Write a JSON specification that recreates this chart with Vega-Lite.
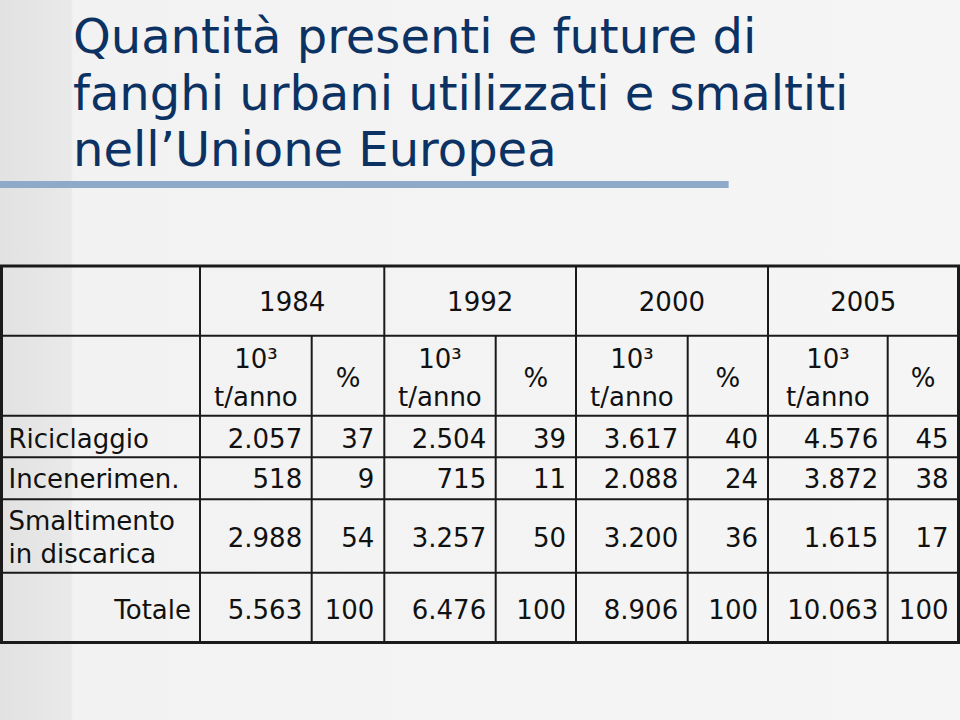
{
  "$schema": "https://vega.github.io/schema/vega-lite/v6.json",
  "width": 960,
  "height": 720,
  "autosize": {"type": "none"},
  "padding": 0,
  "background": "#f4f4f4",
  "title": {
    "text": ["Quantità presenti e future di", "fanghi urbani utilizzati e smaltiti", "nell’Unione Europea"],
    "orient": "top",
    "anchor": "start",
    "frame": "group",
    "align": "left",
    "baseline": "top",
    "offset": -18,
    "dx": 73,
    "dy": 158,
    "font": "DejaVu Sans",
    "fontSize": 48,
    "fontWeight": "normal",
    "lineHeight": 56.5,
    "color": "#0c3264"
  },
  "config": {
    "locale": {"number": {"decimal": ",", "thousands": ".", "grouping": [3], "currency": ["€", ""]}},
    "view": {
      "stroke": null,
      "fill": {
        "gradient": "linear", "x1": 0, "x2": 1, "y1": 0, "y2": 0,
        "stops": [
          {"offset": 0, "color": "#e2e2e2"},
          {"offset": 0.074, "color": "#e9e9e9"},
          {"offset": 0.076, "color": "#f2f2f2"},
          {"offset": 1, "color": "#f5f5f5"}
        ]
      }
    },
    "text": {"font": "DejaVu Sans", "fontSize": 26, "color": "#111111"}
  },
  "datasets": {
    "tabella": [
      {"categoria": "Riciclaggio", "riga": 2, "anno": 1984, "migliaia_t": 2057, "percentuale": 37},
      {"categoria": "Riciclaggio", "riga": 2, "anno": 1992, "migliaia_t": 2504, "percentuale": 39},
      {"categoria": "Riciclaggio", "riga": 2, "anno": 2000, "migliaia_t": 3617, "percentuale": 40},
      {"categoria": "Riciclaggio", "riga": 2, "anno": 2005, "migliaia_t": 4576, "percentuale": 45},
      {"categoria": "Incenerimen.", "riga": 3, "anno": 1984, "migliaia_t": 518, "percentuale": 9},
      {"categoria": "Incenerimen.", "riga": 3, "anno": 1992, "migliaia_t": 715, "percentuale": 11},
      {"categoria": "Incenerimen.", "riga": 3, "anno": 2000, "migliaia_t": 2088, "percentuale": 24},
      {"categoria": "Incenerimen.", "riga": 3, "anno": 2005, "migliaia_t": 3872, "percentuale": 38},
      {"categoria": "Smaltimento\nin discarica", "riga": 4, "anno": 1984, "migliaia_t": 2988, "percentuale": 54},
      {"categoria": "Smaltimento\nin discarica", "riga": 4, "anno": 1992, "migliaia_t": 3257, "percentuale": 50},
      {"categoria": "Smaltimento\nin discarica", "riga": 4, "anno": 2000, "migliaia_t": 3200, "percentuale": 36},
      {"categoria": "Smaltimento\nin discarica", "riga": 4, "anno": 2005, "migliaia_t": 1615, "percentuale": 17},
      {"categoria": "Totale", "riga": 5, "anno": 1984, "migliaia_t": 5563, "percentuale": 100},
      {"categoria": "Totale", "riga": 5, "anno": 1992, "migliaia_t": 6476, "percentuale": 100},
      {"categoria": "Totale", "riga": 5, "anno": 2000, "migliaia_t": 8906, "percentuale": 100},
      {"categoria": "Totale", "riga": 5, "anno": 2005, "migliaia_t": 10063, "percentuale": 100}
    ],
    "anni": [{"anno": 1984}, {"anno": 1992}, {"anno": 2000}, {"anno": 2005}],
    "orizzontali": [{"confine": 1}, {"confine": 2}, {"confine": 3}, {"confine": 4}, {"confine": 5}],
    "verticali": [
      {"confine": 1, "da": 0}, {"confine": 2, "da": 1},
      {"confine": 3, "da": 0}, {"confine": 4, "da": 1},
      {"confine": 5, "da": 0}, {"confine": 6, "da": 1},
      {"confine": 7, "da": 0}, {"confine": 8, "da": 1}
    ]
  },
  "resolve": {"scale": {"x": "independent", "y": "independent"}},
  "layer": [
    {
      "data": {"values": [{"elemento": "sottolineatura titolo"}]},
      "mark": {"type": "rule", "color": "#8fa9c8", "strokeWidth": 7, "strokeCap": "butt"},
      "encoding": {
        "x": {"datum": 0, "type": "quantitative", "axis": null, "scale": {"domain": [0, 100], "range": [0, 960], "nice": false, "zero": false}},
        "x2": {"datum": 75.9},
        "y": {"datum": 25.625, "type": "quantitative", "axis": null, "scale": {"domain": [0, 100], "range": [0, 720], "nice": false, "zero": false}}
      }
    },
    {
      "data": {"name": "orizzontali"},
      "mark": {"type": "rule", "color": "#1a1a1a", "strokeWidth": 2},
      "encoding": {
        "y": {"field": "confine", "type": "quantitative", "axis": null, "scale": {"domain": [0, 1, 2, 3, 4, 5, 6], "range": [266, 335.7, 415.7, 457.3, 499.3, 572.7, 642.5], "nice": false, "zero": false}}
      }
    },
    {
      "data": {"name": "verticali"},
      "mark": {"type": "rule", "color": "#1a1a1a", "strokeWidth": 2},
      "encoding": {
        "x": {"field": "confine", "type": "quantitative", "axis": null, "scale": {"domain": [0, 1, 2, 3, 4, 5, 6, 7, 8, 9], "range": [1.5, 200, 311.7, 384.3, 495.7, 576, 687.7, 768, 887.7, 958.5], "nice": false, "zero": false}},
        "y": {"field": "da", "type": "quantitative", "axis": null, "scale": {"domain": [0, 1, 2, 3, 4, 5, 6], "range": [266, 335.7, 415.7, 457.3, 499.3, 572.7, 642.5], "nice": false, "zero": false}},
        "y2": {"datum": 6}
      }
    },
    {
      "data": {"values": [{"elemento": "cornice tabella"}]},
      "mark": {"type": "rect", "fillOpacity": 0, "stroke": "#1a1a1a", "strokeWidth": 3},
      "encoding": {
        "x": {"datum": 0, "type": "quantitative", "axis": null, "scale": {"domain": [0, 1, 2, 3, 4, 5, 6, 7, 8, 9], "range": [1.5, 200, 311.7, 384.3, 495.7, 576, 687.7, 768, 887.7, 958.5], "nice": false, "zero": false}},
        "x2": {"datum": 9},
        "y": {"datum": 0, "type": "quantitative", "axis": null, "scale": {"domain": [0, 1, 2, 3, 4, 5, 6], "range": [266, 335.7, 415.7, 457.3, 499.3, 572.7, 642.5], "nice": false, "zero": false}},
        "y2": {"datum": 6}
      }
    },
    {
      "data": {"name": "anni"},
      "mark": {"type": "text", "align": "center", "baseline": "alphabetic"},
      "encoding": {
        "x": {"field": "anno", "type": "quantitative", "axis": null, "scale": {"domain": [1984, 1992, 2000, 2005], "range": [292.2, 480.2, 671.9, 863.3], "nice": false, "zero": false}},
        "y": {"datum": 0, "type": "quantitative", "axis": null, "scale": {"domain": [0, 1, 2, 3, 4, 5], "range": [311, 368.3, 448, 488.3, 546.7, 618.5], "nice": false, "zero": false}},
        "text": {"field": "anno", "type": "quantitative", "format": "d"}
      }
    },
    {
      "data": {"name": "anni"},
      "mark": {"type": "text", "align": "center", "baseline": "alphabetic", "lineHeight": 37.7},
      "encoding": {
        "x": {"field": "anno", "type": "quantitative", "axis": null, "scale": {"domain": [1984, 1992, 2000, 2005], "range": [255.9, 439.9, 631.9, 827.9], "nice": false, "zero": false}},
        "y": {"datum": 1, "type": "quantitative", "axis": null, "scale": {"domain": [0, 1, 2, 3, 4, 5], "range": [311, 368.3, 448, 488.3, 546.7, 618.5], "nice": false, "zero": false}},
        "text": {"value": ["10³", "t/anno"]}
      }
    },
    {
      "data": {"name": "anni"},
      "mark": {"type": "text", "align": "center", "baseline": "alphabetic", "dy": 18.7},
      "encoding": {
        "x": {"field": "anno", "type": "quantitative", "axis": null, "scale": {"domain": [1984, 1992, 2000, 2005], "range": [348, 535.9, 727.9, 923.1], "nice": false, "zero": false}},
        "y": {"datum": 1, "type": "quantitative", "axis": null, "scale": {"domain": [0, 1, 2, 3, 4, 5], "range": [311, 368.3, 448, 488.3, 546.7, 618.5], "nice": false, "zero": false}},
        "text": {"value": "%"}
      }
    },
    {
      "data": {"name": "tabella"},
      "mark": {"type": "text", "align": "right", "baseline": "alphabetic", "dx": -9.5},
      "encoding": {
        "x": {"field": "anno", "type": "quantitative", "axis": null, "scale": {"domain": [1984, 1992, 2000, 2005], "range": [311.7, 495.7, 687.7, 887.7], "nice": false, "zero": false}},
        "y": {"field": "riga", "type": "quantitative", "axis": null, "scale": {"domain": [0, 1, 2, 3, 4, 5], "range": [311, 368.3, 448, 488.3, 546.7, 618.5], "nice": false, "zero": false}},
        "text": {"field": "migliaia_t", "type": "quantitative", "format": ",d"}
      }
    },
    {
      "data": {"name": "tabella"},
      "mark": {"type": "text", "align": "right", "baseline": "alphabetic", "dx": -10},
      "encoding": {
        "x": {"field": "anno", "type": "quantitative", "axis": null, "scale": {"domain": [1984, 1992, 2000, 2005], "range": [384.3, 576, 768, 958.5], "nice": false, "zero": false}},
        "y": {"field": "riga", "type": "quantitative", "axis": null, "scale": {"domain": [0, 1, 2, 3, 4, 5], "range": [311, 368.3, 448, 488.3, 546.7, 618.5], "nice": false, "zero": false}},
        "text": {"field": "percentuale", "type": "quantitative", "format": "d"}
      }
    },
    {
      "data": {"name": "tabella"},
      "transform": [{"filter": "datum.anno === 1984 && datum.categoria !== 'Totale'"}],
      "mark": {"type": "text", "align": "left", "baseline": "alphabetic", "dx": 7, "lineBreak": "\n", "lineHeight": 32.7},
      "encoding": {
        "x": {"datum": 0, "type": "quantitative", "axis": null, "scale": {"domain": [0, 1, 2, 3, 4, 5, 6, 7, 8, 9], "range": [1.5, 200, 311.7, 384.3, 495.7, 576, 687.7, 768, 887.7, 958.5], "nice": false, "zero": false}},
        "y": {"field": "riga", "type": "quantitative", "axis": null, "scale": {"domain": [2, 3, 4, 5], "range": [448, 488.3, 530, 618.5], "nice": false, "zero": false}},
        "text": {"field": "categoria", "type": "nominal"}
      }
    },
    {
      "data": {"name": "tabella"},
      "transform": [{"filter": "datum.anno === 1984 && datum.categoria === 'Totale'"}],
      "mark": {"type": "text", "align": "right", "baseline": "alphabetic", "dx": -9},
      "encoding": {
        "x": {"datum": 1, "type": "quantitative", "axis": null, "scale": {"domain": [0, 1, 2, 3, 4, 5, 6, 7, 8, 9], "range": [1.5, 200, 311.7, 384.3, 495.7, 576, 687.7, 768, 887.7, 958.5], "nice": false, "zero": false}},
        "y": {"field": "riga", "type": "quantitative", "axis": null, "scale": {"domain": [0, 1, 2, 3, 4, 5], "range": [311, 368.3, 448, 488.3, 546.7, 618.5], "nice": false, "zero": false}},
        "text": {"field": "categoria", "type": "nominal"}
      }
    }
  ]
}
